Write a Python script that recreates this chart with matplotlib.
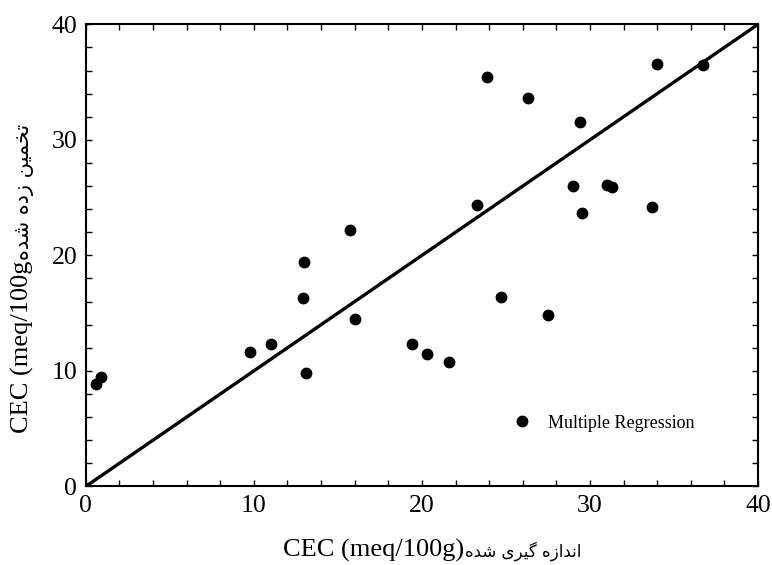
import matplotlib.pyplot as plt
import numpy as np
from matplotlib.transforms import IdentityTransform

# measured vs. estimated CEC (meq/100g), multiple regression
measured = [0.64, 0.9, 9.76, 11.0, 12.9, 13.0, 13.1, 15.7, 16.0, 19.4, 20.3, 21.6,
            23.3, 23.85, 24.7, 26.3, 27.5, 28.97, 29.4, 29.5, 31.0, 31.3, 33.7, 34.0, 36.7]
estimated = [8.9, 9.45, 11.6, 12.3, 16.3, 19.4, 9.85, 22.2, 14.5, 12.3, 11.5, 10.75,
             24.4, 35.45, 16.4, 33.6, 14.8, 26.0, 31.55, 23.7, 26.1, 25.9, 24.15, 36.6, 36.45]
line_x = [0, 40]
line_y = [0, 40]

# Persian text written in visual order with presentation forms
fa_estimated = "\uFEE9\uFEAA\uFEB7 \uFEE9\uFEA9\uFEAF \uFEE6\uFEF4\uFEE4\uFEA8\uFE97"
fa_measured = "\uFEE9\uFEAA\uFEB7 \uFBFC\uFEAE\uFEF4\uFB94 \uFEE9\uFEAF\uFE8D\uFEAA\uFEE7\uFE8D"

plt.rcParams['font.family'] = ['Liberation Serif', 'DejaVu Sans']

W, H = 772, 565
fig = plt.figure(figsize=(W / 100, H / 100), dpi=100)
ax = fig.add_axes([0.111, 0.139, 0.871, 0.818])

ax.plot(line_x, line_y, color='black', linewidth=2.4)
ax.plot(measured, estimated, 'o', color='black', markersize=7.5, linestyle='none',
        label='Multiple Regression')

ax.set_xlim(0, 40)
ax.set_ylim(0, 40)
ax.set_xticks([0, 10, 20, 30, 40])
ax.set_yticks([0, 10, 20, 30, 40])
ax.set_xticks(np.arange(0, 41, 2), minor=True)
ax.set_yticks(np.arange(0, 41, 2), minor=True)
ax.tick_params(which='both', direction='in', top=True, right=True, length=4, width=1,
               labelsize=18.5, pad=6)
for s in ax.spines.values():
    s.set_linewidth(1.5)

ax.legend(loc='center left', bbox_to_anchor=(0.635, 0.137), frameon=False, fontsize=13,
          borderpad=0, borderaxespad=0, handlelength=1, handletextpad=0.95)

# axis labels: latin part and persian part in different sizes, placed side by side
fig.canvas.draw()
renderer = fig.canvas.get_renderer()
px = IdentityTransform()
lab = dict(rotation_mode='anchor', ha='left', va='baseline', transform=px)

xl = fig.text(283, H - 557, "CEC (meq/100g)", fontsize=19, **lab)
bb = xl.get_window_extent(renderer)
fig.text(bb.x1 + 1, H - 557, fa_measured, fontsize=12, family='DejaVu Sans', **lab)

yl = fig.text(29, H - 433, "CEC (meq/100g", fontsize=19, rotation=90, **lab)
bb = yl.get_window_extent(renderer)
fig.text(29, bb.y1 + 1, fa_estimated, fontsize=15, rotation=90, family='DejaVu Sans', **lab)

fig.savefig('out.png', dpi=100)
